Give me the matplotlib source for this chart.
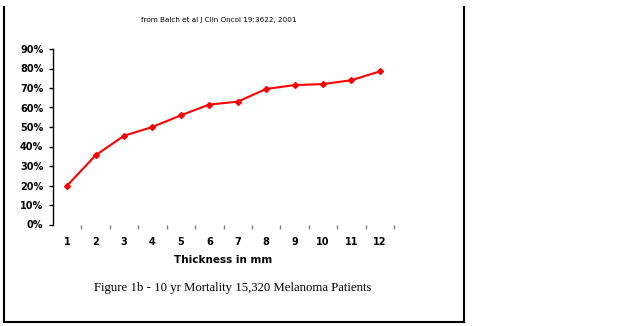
import numpy as np
import matplotlib
matplotlib.use('Agg')
import matplotlib.pyplot as plt
from matplotlib.lines import Line2D

# 10 yr mortality by tumour thickness
thickness = [1, 2, 3, 4, 5, 6, 7, 8, 9, 10, 11, 12]
mortality = [20, 35.5, 45.5, 50, 56, 61.5, 63, 69.5, 71.5, 72, 74, 78.5]
yticks = [0, 10, 20, 30, 40, 50, 60, 70, 80, 90]

fig = plt.figure(figsize=(6.4, 3.26), dpi=100)
ax = fig.add_axes([53/640, 1 - 224.5/326, 341/640, 175.5/326])

ax.plot(thickness, mortality, color='#ff0000', lw=1.5,
        marker='D', ms=3, mfc='#ff0000', mec='#ff0000')

ax.set_xlim(0.5, 12.5)
ax.set_ylim(0, 90)
ax.set_yticks(yticks)
ax.set_yticklabels(['%d%%' % v for v in yticks], fontsize=7, fontweight='bold')
ax.set_xticks(thickness)
ax.set_xticklabels([str(t) for t in thickness], fontsize=7, fontweight='bold')
ax.set_xticks(np.arange(1.5, 13, 1), minor=True)
ax.tick_params(axis='x', which='major', length=0, pad=9)
ax.tick_params(axis='x', which='minor', length=3, color='#808080', width=1)
ax.tick_params(axis='y', length=3, width=1, pad=4)

for s in ['top', 'right', 'bottom']:
    ax.spines[s].set_visible(False)
ax.spines['left'].set_linewidth(1)

ax.set_xlabel('Thickness in mm', fontsize=7.5, fontweight='bold', labelpad=6)

fig.text(219/640, 1 - 20/326, 'from Balch et al J Clin Oncol 19:3622, 2001',
         fontsize=5.2, ha='center', va='center')
fig.text(233/640, 1 - 288/326, 'Figure 1b - 10 yr Mortality 15,320 Melanoma Patients',
         fontsize=9.2, family='Liberation Serif', ha='center', va='center')

# page frame (left, right, bottom)
W, H = 640, 326
fx = lambda px: px / W
fy = lambda py: 1 - py / H
fig.add_artist(Line2D([fx(4), fx(4)], [fy(7), fy(322)], color='black', lw=1.5))
fig.add_artist(Line2D([fx(464), fx(464)], [fy(7), fy(322)], color='black', lw=1.5))
fig.add_artist(Line2D([fx(4), fx(464)], [fy(322), fy(322)], color='black', lw=1.5))

fig.savefig('out.png', dpi=100)
